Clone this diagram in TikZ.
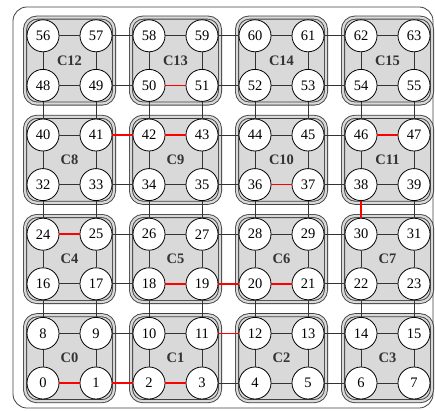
\documentclass[tikz,border=0pt]{standalone}
\usepackage{fontspec}
\setmainfont{Liberation Serif}
\usetikzlibrary{backgrounds}

\begin{document}
\begin{tikzpicture}[
  x=1pt, y=1pt,
  core/.style={circle, draw, fill=white, line width=0.8pt, minimum size=32pt, inner sep=0pt, font=\fontsize{14.5}{15}\selectfont},
  link/.style={draw=black!80, line width=0.8pt},
  hot/.style={draw=red, line width=1.6pt},
  cluster/.style={draw=black!75, line width=0.9pt, double=black!15, double distance=2.2pt, fill=black!15, rounded corners=12pt},
  tag/.style={font=\fontsize{14.5}{15}\selectfont\bfseries, text=black!80},
  frame/.style={draw=black!75, line width=0.8pt, rounded corners=14pt}
]
\useasboundingbox (0,0) rectangle (435,410);

% cores, numbered row by row from the bottom left
\foreach \k in {0,...,63}{
  \pgfmathtruncatemacro{\nc}{mod(\k,8)}
  \pgfmathtruncatemacro{\nr}{div(\k,8)}
  \node[core] (n\k) at (43+53*\nc, 27+49.6*\nr) {\k};
}

% mesh links
\foreach \k in {0,...,63}{
  \pgfmathtruncatemacro{\nc}{mod(\k,8)}
  \pgfmathtruncatemacro{\east}{\k+1}
  \pgfmathtruncatemacro{\north}{\k+8}
  \ifnum\nc<7 \draw[link] (n\k) -- (n\east); \fi
  \ifnum\k<56 \draw[link] (n\k) -- (n\north); \fi
}

% highlighted links
\foreach \a/\b in {0/1, 1/2, 2/3, 11/12, 18/19, 19/20, 20/21, 24/25,
                   30/38, 36/37, 41/42, 42/43, 46/47, 50/51}
  \draw[hot] (n\a) -- (n\b);

% clusters and outer frame
\begin{scope}[on background layer]
  \draw[frame] (13,2) rectangle (433,403);
  \foreach \m in {0,...,15}{
    \pgfmathsetmacro{\bx}{69.5+106*mod(\m,4)}
    \pgfmathsetmacro{\by}{51.8+99.2*div(\m,4)}
    \draw[cluster] (\bx-44.5,\by-43) rectangle (\bx+44.5,\by+43);
    \node[tag] (c\m) at (\bx,\by) {C\m};
  }
\end{scope}
\end{tikzpicture}
\end{document}
